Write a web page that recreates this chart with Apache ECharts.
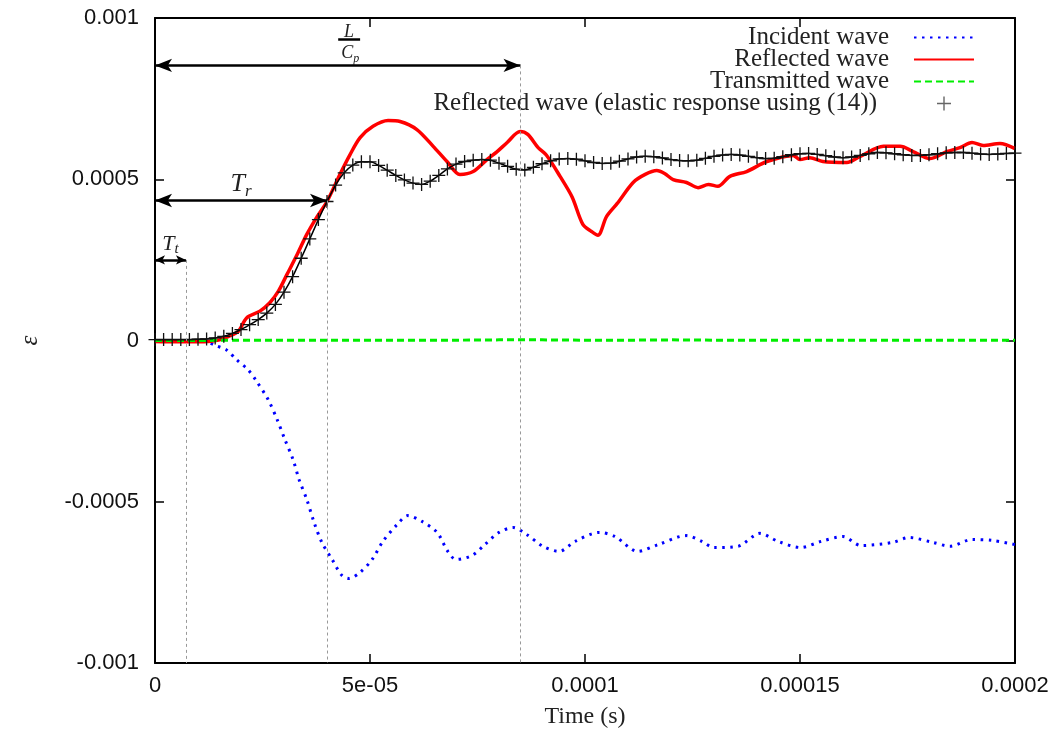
<!DOCTYPE html>
<html>
<head>
<meta charset="utf-8">
<script src="https://cdn.jsdelivr.net/npm/echarts@6/dist/echarts.min.js"></script>
<style>
  html, body { margin: 0; padding: 0; background: #fff; }
  #chart { width: 1060px; height: 740px; }
</style>
</head>
<body>
<div id="chart"></div>
<script>
// units: time in microseconds, strain in 1e-4 (tick labels carry the real values)
const xTickLabels = ["0", "5e-05", "0.0001", "0.00015", "0.0002"];
const yTickLabels = ["-0.001", "-0.0005", "0", "0.0005", "0.001"];

// --- incident wave ---
const incidentT = [0, 5, 10, 12, 14, 16.7, 19, 21.6, 23.5, 26.3, 28.4, 30.2, 32.1, 33.5, 35.3, 37, 38.8, 41.2, 43.5, 45.1, 47.7, 50.5, 53, 56.3, 58.8, 62.1, 65.6, 68.1, 70, 73.7, 76.7, 80, 83.3, 86.5, 90.2, 94, 97.7, 103.3, 107, 112.3, 117, 123.5, 127.2, 130, 135.6, 140.7, 144.9, 150.2, 154.9, 160, 164.2, 171.6, 175.3, 180.9, 184.9, 190, 194.7, 200];
const incidentV = [0, 0, -0.01, -0.04, -0.15, -0.3, -0.6, -0.9, -1.24, -1.83, -2.45, -3.07, -3.69, -4.31, -4.93, -5.64, -6.26, -6.79, -7.29, -7.38, -7.19, -6.79, -6.23, -5.71, -5.43, -5.61, -5.95, -6.54, -6.79, -6.67, -6.33, -5.95, -5.8, -6.02, -6.38, -6.54, -6.23, -5.95, -6.08, -6.54, -6.33, -6.05, -6.23, -6.42, -6.38, -5.98, -6.23, -6.42, -6.23, -6.08, -6.36, -6.26, -6.11, -6.26, -6.38, -6.17, -6.2, -6.33];

// --- reflected wave ---
const reflectedT = [0, 5, 10, 13, 15, 17, 19.4, 21.3, 24.4, 26.7, 28.7, 30.7, 33, 35.3, 37.6, 40, 43, 45.3, 47.7, 50.7, 54.2, 57, 60.9, 64.7, 67.9, 70.9, 74, 77.2, 79.5, 81.9, 84.9, 86.7, 89.1, 91, 94.2, 97, 99.5, 101.5, 103, 105, 107.5, 111.2, 114, 116.7, 118.5, 120.5, 123.6, 126.3, 128.7, 130.9, 133.7, 137.6, 142.3, 148.4, 150, 152.3, 155.3, 160.9, 164, 169.4, 173.3, 176.3, 180.2, 184.2, 187.2, 190, 192.6, 196.5, 200];
const reflectedV = [-0.03, -0.04, -0.04, -0.02, 0.02, 0.12, 0.29, 0.7, 0.91, 1.17, 1.53, 2.05, 2.65, 3.29, 3.82, 4.31, 5.15, 5.75, 6.29, 6.64, 6.82, 6.79, 6.54, 6.02, 5.55, 5.15, 5.24, 5.61, 5.85, 6.14, 6.48, 6.39, 5.98, 5.75, 5.09, 4.45, 3.6, 3.38, 3.26, 3.84, 4.25, 4.9, 5.15, 5.27, 5.18, 4.99, 4.9, 4.74, 4.84, 4.78, 5.09, 5.24, 5.55, 5.74, 5.61, 5.67, 5.55, 5.52, 5.71, 6.02, 6.02, 5.86, 5.64, 5.86, 5.98, 6.14, 6.05, 6.11, 5.95];

// --- transmitted wave ---
const transmittedT = [0, 10, 20, 30, 40, 50, 60, 70, 80, 90, 100, 110, 120, 130, 140, 150, 160, 170, 180, 190, 200];
const transmittedV = [0, 0, 0.01, 0.01, 0.01, 0.01, 0.01, 0.01, 0.02, 0.02, 0.01, 0.01, 0.02, 0.01, 0.01, 0.01, 0.01, 0.01, 0.01, 0.01, 0.01];

// --- reflected wave, elastic response (14) ---
const elasticT = [0, 2, 4, 6, 8, 10, 12, 14, 16, 18, 20, 22, 24, 26, 28, 30, 32, 34, 36, 38, 40, 42, 44, 46, 48, 50, 52, 54, 56, 58, 60, 62, 64, 66, 68, 70, 72, 74, 76, 78, 80, 82, 84, 86, 88, 90, 92, 94, 96, 98, 100, 102, 104, 106, 108, 110, 112, 114, 116, 118, 120, 122, 124, 126, 128, 130, 132, 134, 136, 138, 140, 142, 144, 146, 148, 150, 152, 154, 156, 158, 160, 162, 164, 166, 168, 170, 172, 174, 176, 178, 180, 182, 184, 186, 188, 190, 192, 194, 196, 198, 200];
const elasticV = [0.03, 0.03, 0.03, 0.03, 0.03, 0.04, 0.05, 0.08, 0.13, 0.22, 0.34, 0.49, 0.65, 0.85, 1.12, 1.5, 1.98, 2.55, 3.15, 3.75, 4.31, 4.82, 5.2, 5.44, 5.54, 5.54, 5.43, 5.28, 5.12, 4.98, 4.88, 4.84, 4.94, 5.12, 5.32, 5.47, 5.55, 5.59, 5.61, 5.59, 5.5, 5.4, 5.31, 5.29, 5.37, 5.48, 5.57, 5.63, 5.64, 5.62, 5.57, 5.52, 5.49, 5.5, 5.56, 5.63, 5.69, 5.71, 5.7, 5.66, 5.61, 5.58, 5.57, 5.59, 5.65, 5.71, 5.75, 5.77, 5.75, 5.71, 5.67, 5.64, 5.65, 5.7, 5.76, 5.79, 5.8, 5.77, 5.73, 5.69, 5.67, 5.69, 5.74, 5.79, 5.83, 5.82, 5.79, 5.76, 5.74, 5.74, 5.76, 5.79, 5.82, 5.83, 5.83, 5.81, 5.78, 5.77, 5.78, 5.8, 5.81];

// --- annotations: arrow end time, arrow height ---
const markT = [7.2, 40, 85];   // T_t, T_r, L/C_p
const markY = [2.5, 4.34, 8.53];

const PLUS = "path://M4.5,0H5.5V4.5H10V5.5H5.5V10H4.5V5.5H0V4.5H4.5Z";
const SERIF = "Liberation Serif";
const SANS = "Liberation Sans";

function zip(t, v) {
  return t.map((x, i) => [x, v[i]]);
}

const chart = echarts.init(document.getElementById("chart"));

const tickStyle = { show: true, inside: true, length: 9, lineStyle: { color: "#000", width: 1.5 } };
const lineBox = { show: true, onZero: false, lineStyle: { color: "#000", width: 2 } };

// arrows + dashed guides (the short T_t arrow gets smaller heads)
const arrowLines = markT.map((t, i) => {
  const size = i === 0 ? [7, 10] : [10, 17];
  return [
    { coord: [0, markY[i]], symbolSize: size },
    { coord: [t, markY[i]], symbolSize: size },
  ];
});
const guideLines = markT.map((t, i) => [
  { coord: [t, markY[i]], symbol: "none", lineStyle: { color: "#999", width: 1, type: [3, 3] } },
  { coord: [t, -10], symbol: "none" },
]);
const fracBar = [[
  { coord: [42.6, 9.33], symbol: "none", lineStyle: { width: 2.5 } },
  { coord: [47.7, 9.33], symbol: "none" },
]];

function note(coord, text, rich) {
  return {
    coord,
    symbol: "circle",
    symbolSize: 1,
    itemStyle: { color: "rgba(0,0,0,0)" },
    label: { show: true, position: "inside", formatter: text, rich },
  };
}

const richT = {
  a: { fontFamily: SERIF, fontStyle: "italic", fontSize: 26, lineHeight: 32, color: "#222" },
  b: { fontFamily: SERIF, fontStyle: "italic", fontSize: 17, lineHeight: 32, verticalAlign: "bottom", color: "#222" },
};
const richTt = {
  a: { fontFamily: SERIF, fontStyle: "italic", fontSize: 22, lineHeight: 26, color: "#222" },
  b: { fontFamily: SERIF, fontStyle: "italic", fontSize: 15, lineHeight: 26, verticalAlign: "bottom", color: "#222" },
};
const richFrac = {
  a: { fontFamily: SERIF, fontStyle: "italic", fontSize: 18, lineHeight: 22, color: "#222" },
  b: { fontFamily: SERIF, fontStyle: "italic", fontSize: 12, lineHeight: 22, verticalAlign: "bottom", color: "#222" },
};

chart.setOption({
  animation: false,
  backgroundColor: "#fff",
  grid: { left: 155, right: 45, top: 18, bottom: 77 },
  legend: {
    orient: "vertical",
    align: "right",
    right: 80,
    top: 20,
    itemWidth: 60,
    itemHeight: 14,
    itemGap: -3,
    selectedMode: false,
    itemStyle: { opacity: 0 },
    textStyle: { fontFamily: SERIF, fontSize: 25, lineHeight: 22, color: "#222", padding: [0, 20, 0, 0] },
    data: [
      "Incident wave",
      "Reflected wave",
      "Transmitted wave",
      {
        name: "Reflected wave (elastic response using (14))",
        icon: PLUS,
        itemStyle: { color: "#666", opacity: 1 },
        textStyle: { padding: [0, 32, 0, 0] },
      },
    ],
  },
  xAxis: [
    {
      type: "value",
      min: 0,
      max: 200,
      interval: 50,
      position: "bottom",
      name: "Time (s)",
      nameLocation: "middle",
      nameGap: 42,
      nameTextStyle: { fontFamily: SERIF, fontSize: 24, color: "#222" },
      axisLine: lineBox,
      axisTick: tickStyle,
      splitLine: { show: false },
      axisLabel: {
        margin: 12,
        fontFamily: SANS,
        fontSize: 22,
        color: "#111",
        formatter: (v) => xTickLabels[Math.round(v / 50)],
      },
    },
    {
      type: "value",
      min: 0,
      max: 200,
      interval: 50,
      position: "top",
      axisLine: lineBox,
      axisTick: tickStyle,
      splitLine: { show: false },
      axisLabel: { show: false },
    },
  ],
  yAxis: [
    {
      type: "value",
      min: -10,
      max: 10,
      interval: 5,
      position: "left",
      name: "ε",
      nameLocation: "middle",
      nameRotate: 90,
      nameGap: 112,
      nameTextStyle: { fontFamily: SERIF, fontStyle: "italic", fontSize: 25, color: "#222" },
      axisLine: lineBox,
      axisTick: tickStyle,
      splitLine: { show: false },
      axisLabel: {
        margin: 16,
        fontFamily: SANS,
        fontSize: 22,
        color: "#111",
        formatter: (v) => yTickLabels[Math.round((v + 10) / 5)],
      },
    },
    {
      type: "value",
      min: -10,
      max: 10,
      interval: 5,
      position: "right",
      axisLine: lineBox,
      axisTick: tickStyle,
      splitLine: { show: false },
      axisLabel: { show: false },
    },
  ],
  series: [
    {
      name: "Incident wave",
      type: "line",
      data: zip(incidentT, incidentV),
      symbol: "none",
      smooth: 0.3,
      lineStyle: { color: "#0000ff", width: 3, type: [2.5, 5.5], cap: "butt" },
      itemStyle: { color: "#0000ff" },
    },
    {
      name: "Reflected wave",
      type: "line",
      data: zip(reflectedT, reflectedV),
      symbol: "none",
      smooth: 0.3,
      lineStyle: { color: "#ff0000", width: 3.5 },
      itemStyle: { color: "#ff0000" },
    },
    {
      name: "Transmitted wave",
      type: "line",
      data: zip(transmittedT, transmittedV),
      symbol: "none",
      lineStyle: { color: "#00ee00", width: 3, type: [7, 4], cap: "butt" },
      itemStyle: { color: "#00ee00" },
    },
    {
      name: "Reflected wave (elastic response using (14))",
      type: "line",
      data: zip(elasticT, elasticV),
      symbol: PLUS,
      symbolSize: 13,
      showAllSymbol: true,
      smooth: 0.3,
      lineStyle: { color: "#000", width: 1.5 },
      itemStyle: { color: "#111" },
    },
    {
      name: "annotations",
      type: "line",
      data: [],
      silent: true,
      markLine: {
        silent: true,
        symbol: ["arrow", "arrow"],
        label: { show: false },
        lineStyle: { color: "#000", width: 2.5, type: "solid" },
        data: arrowLines.concat(guideLines, fracBar),
      },
      markPoint: {
        silent: true,
        data: [
          note([3.6, 3.0], "{a|T}{b|t}", richTt),
          note([20, 4.84], "{a|T}{b|r}", richT),
          note([45.1, 9.55], "{a|L}", richFrac),
          note([45.4, 8.9], "{a|C}{b|p}", richFrac),
        ],
      },
    },
  ],
});
</script>
</body>
</html>
